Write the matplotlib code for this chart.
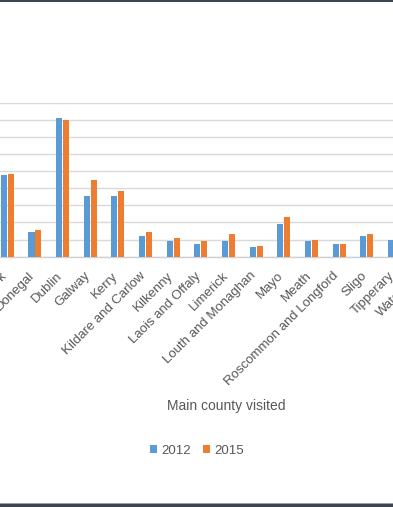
import matplotlib
matplotlib.use("Agg")
import matplotlib.pyplot as plt
from matplotlib.patches import Rectangle
import numpy as np

# data (share of visitors by main county visited)
counties = ["Cork", "Donegal", "Dublin", "Galway", "Kerry", "Kildare and Carlow",
            "Kilkenny", "Laois and Offaly", "Limerick", "Louth and Monaghan",
            "Mayo", "Meath", "Roscommon and Longford", "Sligo", "Tipperary",
            "Waterford"]
values_2012 = [9.5, 2.9, 16.2, 7.1, 7.1, 2.4, 1.8, 1.5, 1.8, 1.1,
               3.8, 1.8, 1.5, 2.4, 2.0, 2.4]
values_2015 = [9.7, 3.1, 16.0, 9.0, 7.7, 2.9, 2.2, 1.8, 2.6, 1.3,
               4.6, 2.0, 1.5, 2.6, 2.2, 2.6]
series = ["2012", "2015"]
colors = ["#5B9BD5", "#ED7D31"]
yticks = np.arange(0, 19, 2)

plt.rcParams['font.family'] = ['Liberation Sans', 'DejaVu Sans']
text_col = "#575757"

W, H = 393, 507
fig = plt.figure(figsize=(W / 100, H / 100), dpi=100)

# the visible picture is a crop of a wider chart, so the axes run past the figure edges
step = 27.65      # px per category
x0 = 7.3          # px of first category
ax_left_px, ax_right_px = -118.0, 511.0
ax_bottom_px, ax_top_px = 256.7, 102.7
ax = fig.add_axes([ax_left_px / W, 1 - ax_bottom_px / H,
                   (ax_right_px - ax_left_px) / W, (ax_bottom_px - ax_top_px) / H])
ax.set_xlim((ax_left_px - x0) / step, (ax_right_px - x0) / step)
ax.set_ylim(0, 18)

x = np.arange(len(counties))
w = 0.22
b1 = ax.bar(x - 0.125, values_2012, w, color=colors[0], label=series[0], zorder=3)
b2 = ax.bar(x + 0.125, values_2015, w, color=colors[1], label=series[1], zorder=3)

ax.set_yticks(yticks)
ax.yaxis.grid(True, color="#d9d9d9", linewidth=1.0, zorder=0)
ax.tick_params(axis='y', length=0, labelleft=False)
for s in ["top", "right", "left"]:
    ax.spines[s].set_visible(False)
ax.spines["bottom"].set_color("#d0d0d0")
ax.spines["bottom"].set_linewidth(1.0)

ax.set_xticks(x)
ax.set_xticklabels(counties, rotation=45, ha='right', va='baseline',
                   rotation_mode='anchor', fontsize=9.5, color=text_col)
ax.tick_params(axis='x', length=0, pad=14)

fig.text(226 / W, 1 - 406 / H, "Main county visited", ha='center', va='center',
         fontsize=10, color=text_col)

fig.legend(handles=[b1, b2], labels=series, loc='center',
           bbox_to_anchor=(197 / W, 1 - 451 / H), ncol=2, frameon=False,
           fontsize=9.5, labelcolor=text_col, handlelength=0.55, handleheight=0.55,
           handletextpad=0.3, columnspacing=0.9)

# dark frame edges at top and bottom of the crop
fig.add_artist(Rectangle((0, 1 - 1.7 / H), 1, 1.7 / H, transform=fig.transFigure,
                         color="#3d4650", lw=0))
fig.add_artist(Rectangle((0, 0), 1, 3.4 / H, transform=fig.transFigure,
                         color="#3d4650", lw=0))
fig.add_artist(Rectangle((0, 3.4 / H), 1, 0.8 / H, transform=fig.transFigure,
                         color="#9aa0a6", lw=0))

fig.savefig("out.png", dpi=100)
